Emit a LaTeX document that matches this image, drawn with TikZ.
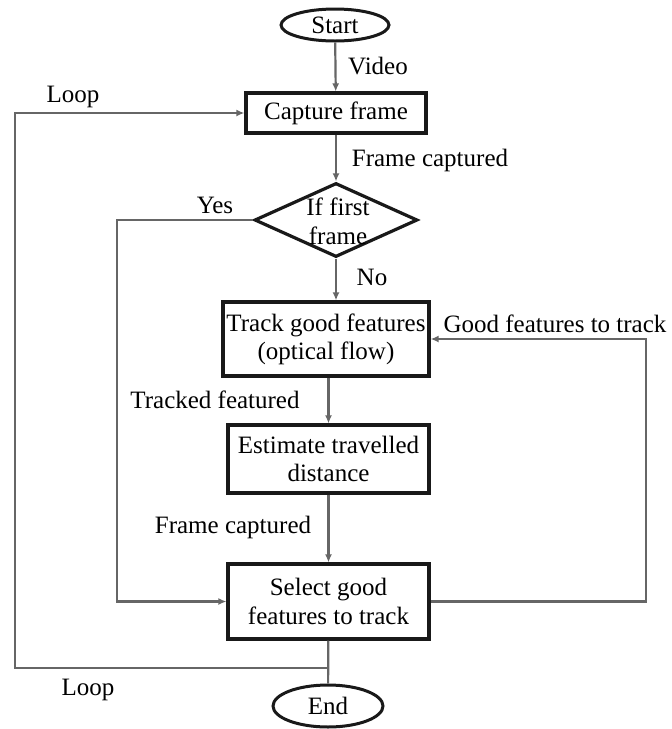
\documentclass[tikz,border=0pt]{standalone}
\usepackage{fontspec}
\setmainfont{Liberation Serif}
\usetikzlibrary{shapes.geometric,arrows.meta}
\begin{document}
\begin{tikzpicture}[x=1pt,y=-1pt,
  font=\fontsize{25}{28}\selectfont,
  box/.style={draw=black!90,line width=3.2pt,rectangle,inner sep=1pt,align=center},
  term/.style={draw=black!90,line width=3pt,ellipse,inner sep=0pt},
  dia/.style={draw=black!90,line width=3.2pt,diamond,inner sep=0pt},
  conn/.style={draw=black!60,line width=2.2pt},
  arr/.style={conn,-{Latex[length=8pt,width=7pt]}},
  lbl/.style={inner sep=0pt,text=black}]
\useasboundingbox (0,0) rectangle (672,729);
% nodes
\node[term,minimum width=108pt,minimum height=32pt] (start) at (335,25) {Start};
\node[box,minimum width=180pt,minimum height=40pt] (cap) at (336,113) {Capture frame};
\node[dia,minimum width=163pt,minimum height=74pt] (dec) at (336,220) {};
\node[lbl,align=center,font=\fontsize{25}{29}\selectfont] (dectxt) at (338,221) {If first\\frame};
\node[box,minimum width=206pt,minimum height=74pt] (track) at (326,339) {Track good features\\(optical flow)};
\node[box,minimum width=201pt,minimum height=68pt] (est) at (328.5,459) {Estimate travelled\\distance};
\node[box,minimum width=201pt,minimum height=75pt,font=\fontsize{25}{29}\selectfont] (sel) at (328.5,601.5) {Select good\\features to track};
\node[term,minimum width=110pt,minimum height=42pt] (end) at (328,706) {End};
% helper coordinates
\coordinate (lpy) at (15,668);
\coordinate (lp) at (sel.south |- lpy);
\coordinate (yx) at (117,220);
\coordinate (fx) at (646,0);
% connectors
\draw[arr] (start) -- (cap);
\draw[arr] (cap) -- (dec);
\draw[arr] (dec.south) -- (dec.south |- track.north);
\draw[arr] (track.south -| est.north) -- (est.north);
\draw[arr] (est) -- (sel);
\draw[conn] (sel) -- (end);
\draw[arr] (lp) -- (lpy) |- (cap.west);
\draw[arr] (dec.west) -- (dec.west -| yx) |- (sel.west);
\draw[arr] (sel.east) -- (sel.east -| fx) |- (track.east);
% labels
\node[lbl] (lvideo) at (378,66) {Video};
\node[lbl] (lloop1) at (73,97) {Loop};
\node[lbl] (lfc1) at (430,160) {Frame captured};
\node[lbl] (lyes) at (215,205) {Yes};
\node[lbl] (lno) at (372,277) {No};
\node[lbl] (lgood) at (555,324) {Good features to track};
\node[lbl] (ltracked) at (215,400) {Tracked featured};
\node[lbl] (lfc2) at (233,527) {Frame captured};
\node[lbl] (lloop2) at (88,690) {Loop};
\end{tikzpicture}
\end{document}
